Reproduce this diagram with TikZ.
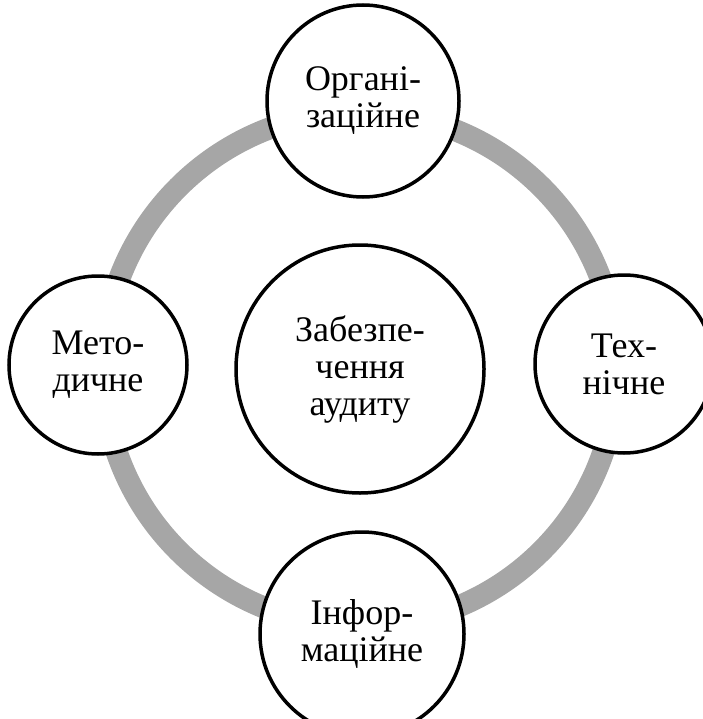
\documentclass[tikz,border=0pt]{standalone}
\usepackage{fontspec}
\setmainfont{Liberation Serif}
\colorlet{ring band color}{black!35}
\tikzset{
    x={1pt},
    y={-1pt},
    ring band/.style={
        draw=ring band color,
        line width={22pt},
    },
    part circle/.style={
        circle, draw=black, fill=white,
        line width={3.5pt},
        inner sep=0pt,
        minimum size={#1},
        align=center,
        font={\fontsize{36}{37}\selectfont},
    },
    part circle/.default={180},
}

\begin{document}
\begin{tikzpicture}
\useasboundingbox (0,0) rectangle (702,719);
% hub
\node[part circle={248}] (hub) at (360,369) {Забезпе-\\чення\\аудиту};
% ring
\draw[ring band] (hub.center) circle[radius=257pt];
% parts
\node[part circle={192}] (organizational) at (363,101) {Органі-\\заційне};
\node[part circle={178}] (technical) at (624,364) {Тех-\\нічне};
\node[part circle={204}] (informational) at (362,634) {Інфор-\\маційне};
\node[part circle={178}] (methodical) at (98,365) {Мето-\\дичне};
\end{tikzpicture}
\end{document}
